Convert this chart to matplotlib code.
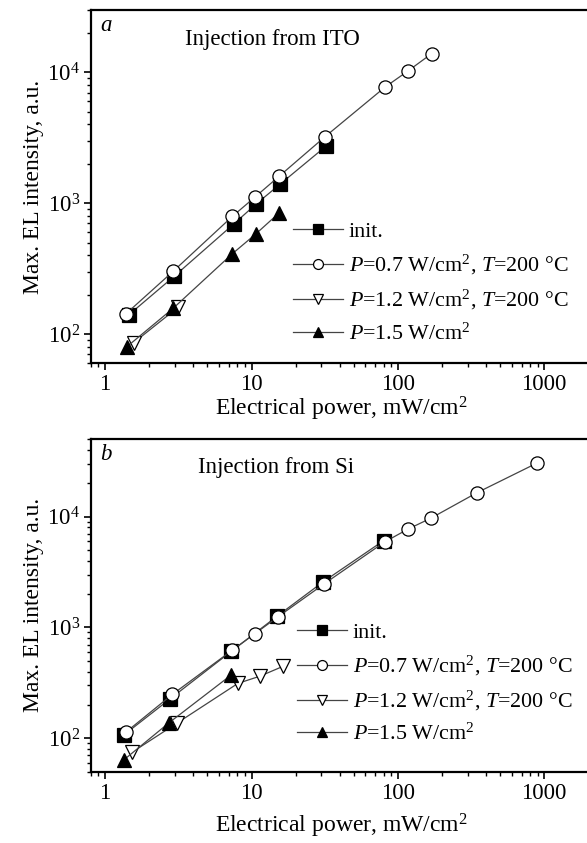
import matplotlib
matplotlib.use('Agg')
import matplotlib.pyplot as plt
from matplotlib.ticker import LogLocator, FixedLocator, FixedFormatter, NullFormatter

plt.rcParams['font.family'] = ['Liberation Serif', 'DejaVu Serif']
plt.rcParams['mathtext.fontset'] = 'custom'
plt.rcParams['mathtext.rm'] = 'Liberation Serif'
plt.rcParams['mathtext.it'] = 'Liberation Serif:italic'
plt.rcParams['mathtext.bf'] = 'Liberation Serif:bold'

# panel a: injection from ITO
a_init_x = [1.45, 2.96, 7.6, 10.8, 15.7, 32.1]
a_init_y = [140, 276, 697, 990, 1400, 2716]
a_p07_x = [1.39, 2.91, 7.4, 10.56, 15.4, 31.6, 81.7, 117.8, 169.8]
a_p07_y = [143, 301, 793, 1114, 1603, 3206, 7720, 10300, 13900]
a_p12_x = [1.57, 3.17]
a_p12_y = [86, 161]
a_p15_x = [1.40, 2.93, 7.4, 10.7, 15.4]
a_p15_y = [79.5, 158, 411, 582, 841]

# panel b: injection from Si
b_init_x = [1.34, 2.78, 7.28, 14.9, 30.7, 80]
b_init_y = [107, 227, 609, 1258, 2565, 6070]
b_p07_x = [1.39, 2.88, 7.37, 10.56, 15.1, 31.2, 81.4, 117, 168, 347, 899]
b_p07_y = [114, 249, 622, 879, 1242, 2460, 5910, 7690, 9660, 16400, 30500]
b_p12_x = [1.53, 3.12, 8.08, 11.4, 16.5]
b_p12_y = [75, 138, 313, 363, 447]
b_p15_x = [1.34, 2.73, 7.2]
b_p15_y = [63.8, 138, 369]

labels = ['init.',
          r'$P$=0.7 W/cm$^2$, $T$=200 °C',
          r'$P$=1.2 W/cm$^2$, $T$=200 °C',
          r'$P$=1.5 W/cm$^2$']

FS = 16.5

fig = plt.figure(figsize=(5.87, 8.43), dpi=100)
ax_a = fig.add_axes([0.155, 0.5694, 0.855, 0.4187])
ax_b = fig.add_axes([0.155, 0.0846, 0.855, 0.3946])

line_kw = dict(color='#444444', lw=0.9, markeredgecolor='black', markeredgewidth=0.9, markersize=9.5)


def draw(ax, data, ylim, tag, title, tx, leg_anchor, xpad):
    (ix, iy), (cx, cy), (dx, dy), (tx_, ty_) = data
    ax.plot(ix, iy, marker='s', markerfacecolor='black', label=labels[0], **line_kw)
    ax.plot(cx, cy, marker='o', markerfacecolor='white', label=labels[1], **line_kw)
    ax.plot(dx, dy, marker='v', markerfacecolor='white', label=labels[2], **line_kw)
    ax.plot(tx_, ty_, marker='^', markerfacecolor='black', label=labels[3], **line_kw)
    ax.set_xscale('log')
    ax.set_yscale('log')
    ax.set_xlim(0.8, 2150)
    ax.set_ylim(*ylim)
    ax.xaxis.set_major_locator(FixedLocator([1, 10, 100, 1000]))
    ax.xaxis.set_major_formatter(FixedFormatter(['1', '10', '100', '1000']))
    ax.xaxis.set_minor_locator(LogLocator(base=10, subs=range(2, 10)))
    ax.xaxis.set_minor_formatter(NullFormatter())
    ax.yaxis.set_minor_locator(LogLocator(base=10, subs=range(2, 10)))
    ax.yaxis.set_minor_formatter(NullFormatter())
    ax.tick_params(which='major', direction='out', length=5, width=1.2, labelsize=FS, pad=3)
    ax.tick_params(which='minor', direction='out', length=3, width=1.0)
    for s in ax.spines.values():
        s.set_linewidth(1.6)
    ax.set_xlabel('Electrical power, mW/cm$^2$', fontsize=17, labelpad=xpad)
    ax.set_ylabel('Max. EL intensity, a.u.', fontsize=17, labelpad=2)
    ax.text(0.018, 0.985, tag, transform=ax.transAxes, fontsize=FS, style='italic', va='top')
    ax.text(tx, 0.945, title, transform=ax.transAxes, fontsize=FS, va='top')
    ax.legend(loc='upper left', bbox_to_anchor=leg_anchor, frameon=False, fontsize=15.8,
              numpoints=1, handlelength=2.3, handletextpad=0.25, labelspacing=0.5,
              borderaxespad=0, markerscale=0.75)


draw(ax_a, [(a_init_x, a_init_y), (a_p07_x, a_p07_y), (a_p12_x, a_p12_y), (a_p15_x, a_p15_y)],
     (60, 30000), 'a', 'Injection from ITO', 0.188, (0.385, 0.425), 0)
draw(ax_b, [(b_init_x, b_init_y), (b_p07_x, b_p07_y), (b_p12_x, b_p12_y), (b_p15_x, b_p15_y)],
     (50, 50000), 'b', 'Injection from Si', 0.213, (0.393, 0.475), 6)

fig.savefig('out.png', dpi=100, facecolor='white')
